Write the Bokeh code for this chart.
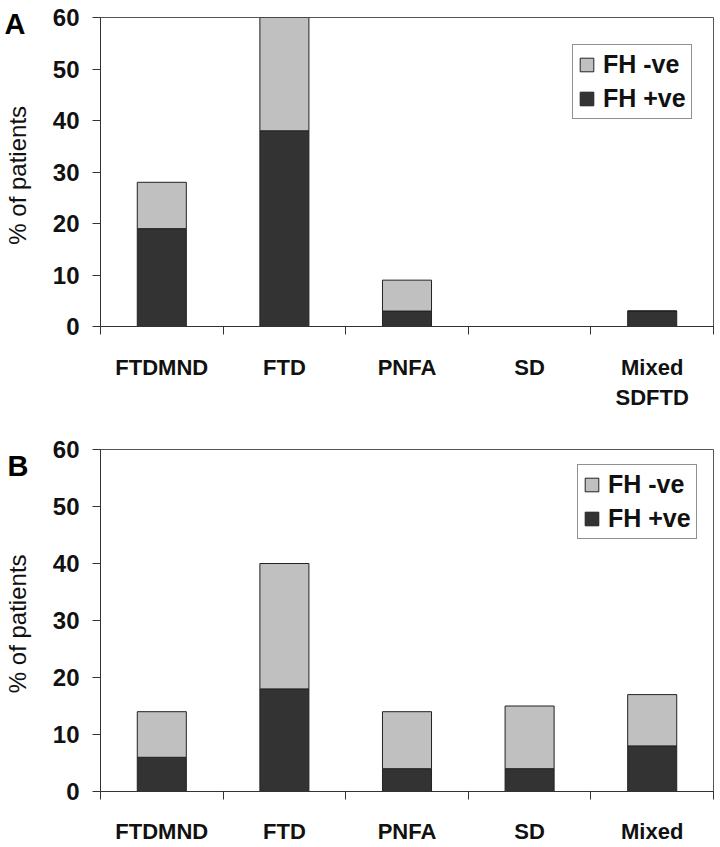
from bokeh.plotting import figure
from bokeh.models import (ColumnDataSource, Range1d, LinearAxis, FixedTicker, Legend,
                          LegendItem, Title)
from bokeh.layouts import column
from bokeh.embed import file_html
from bokeh.resources import INLINE

# ---- data ----
cats_a = ["FTDMND", "FTD", "PNFA", "SD", "Mixed\nSDFTD"]
pos_a = [19, 38, 3, 0, 3]      # FH +ve
neg_a = [9, 22, 6, 0, 0]       # FH -ve
cats_b = ["FTDMND", "FTD", "PNFA", "SD", "Mixed"]
pos_b = [6, 18, 4, 4, 8]
neg_b = [8, 22, 10, 11, 9]
y_ticks = [0, 10, 20, 30, 40, 50, 60]
series_labels = ["FH +ve", "FH -ve"]
panel_letters = ["A", "B"]

DARK = "#333333"
LIGHT = "#c0c0c0"
FONT = "Liberation Sans"


def make_panel(cats, pos, neg, letter, height, border_top, below_standoff, legend_loc,
               letter_offset, letter_standoff):
    n = len(cats)
    centers = [i + 0.5 for i in range(n)]
    bounds = list(range(n + 1))
    src = ColumnDataSource(dict(x=centers, pos=pos, neg=neg))
    p = figure(x_range=Range1d(0, n), y_range=Range1d(0, 60), width=716, height=height,
               output_backend="svg", toolbar_location=None, x_axis_location=None,
               y_axis_location=None, min_border_left=100, min_border_right=3,
               min_border_top=border_top, min_border_bottom=0)
    p.xgrid.visible = False
    p.ygrid.visible = False
    p.outline_line_color = "#555555"
    p.outline_line_width = 1

    p.title = Title(text=letter, align="left", vertical_align="bottom",
                    offset=letter_offset, standoff=letter_standoff,
                    text_font=FONT, text_font_style="bold", text_font_size="29px",
                    text_color="#000000")

    rs = p.vbar_stack(["pos", "neg"], x="x", width=0.4, source=src,
                      fill_color=[DARK, LIGHT], line_color="#222222", line_width=1)

    # y axis
    yax = LinearAxis(ticker=FixedTicker(ticks=y_ticks), axis_label="% of  patients")
    yax.axis_label_text_font = FONT
    yax.axis_label_text_font_style = "normal"
    yax.axis_label_text_font_size = "24px"
    yax.axis_label_text_color = "#111111"
    yax.axis_label_standoff = 19
    yax.major_label_text_font = FONT
    yax.major_label_text_font_style = "bold"
    yax.major_label_text_font_size = "24px"
    yax.major_label_text_color = "#111111"
    yax.major_label_standoff = 13
    yax.major_tick_in = 0
    yax.major_tick_out = 8
    yax.minor_tick_line_color = None
    yax.axis_line_color = "#333333"
    yax.major_tick_line_color = "#333333"
    p.add_layout(yax, "left")

    # x axis: labels at category centres, tick marks at category boundaries
    xax = LinearAxis(ticker=FixedTicker(ticks=centers, minor_ticks=bounds),
                     major_label_overrides={c: lab for c, lab in zip(centers, cats)})
    xax.axis_line_color = "#333333"
    xax.major_tick_line_color = None
    xax.major_tick_in = 0
    xax.major_tick_out = 0
    xax.minor_tick_line_color = "#333333"
    xax.minor_tick_in = 0
    xax.minor_tick_out = 8
    xax.major_label_standoff = below_standoff
    xax.major_label_text_font = FONT
    xax.major_label_text_font_style = "bold"
    xax.major_label_text_font_size = "22px"
    xax.major_label_text_color = "#111111"
    p.add_layout(xax, "below")

    legend = Legend(items=[LegendItem(label=series_labels[1], renderers=[rs[1]]),
                           LegendItem(label=series_labels[0], renderers=[rs[0]])],
                    location=legend_loc, margin=0, padding=5, spacing=5,
                    glyph_width=17, glyph_height=17, label_height=24, label_standoff=8,
                    label_text_font=FONT, label_text_font_style="bold",
                    label_text_font_size="25px", label_text_color="#111111",
                    border_line_color="#222222", border_line_width=1,
                    background_fill_alpha=1.0)
    p.add_layout(legend, "center")
    return p


pa = make_panel(cats_a, pos_a, neg_a, panel_letters[0], 412, 17, 20, (472, 207), -96, -44)
pb = make_panel(cats_b, pos_b, neg_b, panel_letters[1], 434, 37, 19, (477, 252), -93, -64)

layout = column(pa, pb, spacing=0)
open("out.html", "w").write(file_html(layout, INLINE))
